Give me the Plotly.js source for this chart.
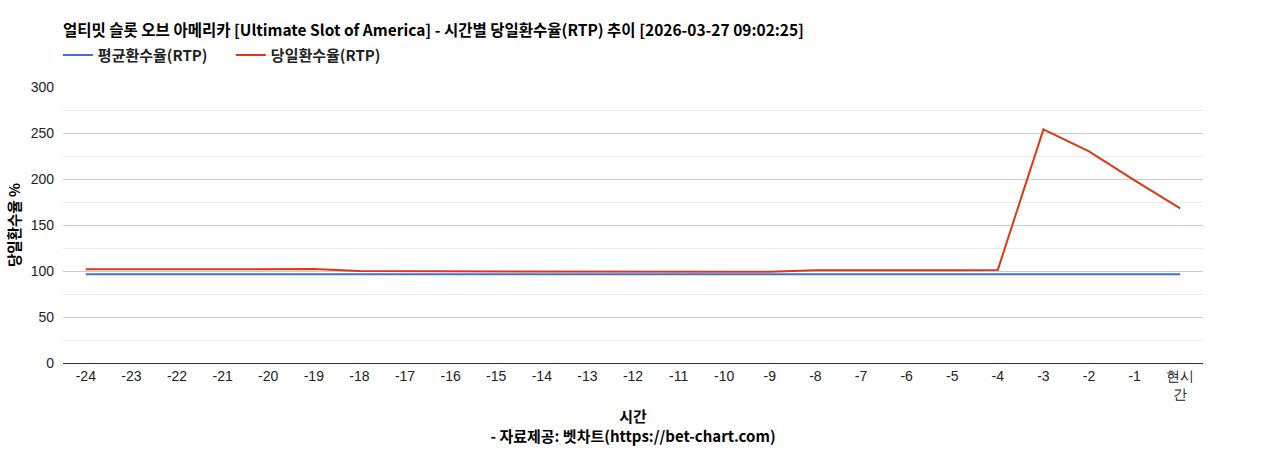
<!DOCTYPE html>
<html>
<head>
<meta charset="utf-8">
<script src="https://cdn.plot.ly/plotly-3.0.1.min.js"></script>
<style>
  body { margin: 0; background: #fff; }
  #chart { width: 1268px; height: 450px; }
</style>
</head>
<body>
<div id="chart"></div>
<script>
// hours before now, last one is "now"
var hours = ['-24', '-23', '-22', '-21', '-20', '-19', '-18', '-17', '-16', '-15', '-14', '-13',
             '-12', '-11', '-10', '-9', '-8', '-7', '-6', '-5', '-4', '-3', '-2', '-1', '현시간'];
var hourLabels = ['-24', '-23', '-22', '-21', '-20', '-19', '-18', '-17', '-16', '-15', '-14', '-13',
                  '-12', '-11', '-10', '-9', '-8', '-7', '-6', '-5', '-4', '-3', '-2', '-1', '현시<br>간'];

var avgRtp = [96.5, 96.5, 96.5, 96.5, 96.5, 96.5, 96.5, 96.5, 96.5, 96.5, 96.5, 96.5,
              96.5, 96.5, 96.5, 96.5, 96.5, 96.5, 96.5, 96.5, 96.5, 96.5, 96.5, 96.5, 96.5];
var todayRtp = [101.8, 101.8, 101.8, 101.9, 102.4, 102.1, 99.9, 99.8, 99.3, 98.9, 98.8, 98.6,
                98.6, 98.9, 99.1, 99.3, 100.9, 100.9, 100.7, 100.7, 101.2, 254.0, 230.0, 198.5, 168.0];

var yTicks = [0, 50, 100, 150, 200, 250, 300];

var korFont = '"Noto Sans CJK KR", "Noto Sans", sans-serif';

var trace1 = {
  x: hours,
  y: avgRtp,
  name: '<b>평균환수율(RTP)</b>',
  type: 'scatter',
  mode: 'lines',
  line: { color: '#3f6fd8', width: 2 }
};

var trace2 = {
  x: hours,
  y: todayRtp,
  name: '<b>당일환수율(RTP)</b>',
  type: 'scatter',
  mode: 'lines',
  line: { color: '#dc3912', width: 2 }
};

var layout = {
  width: 1268,
  height: 450,
  margin: { l: 63, r: 65, t: 87, b: 87 },
  paper_bgcolor: '#fff',
  plot_bgcolor: '#fff',
  showlegend: true,
  title: {
    text: '<b>얼티밋 슬롯 오브 아메리카 [Ultimate Slot of America] - 시간별 당일환수율(RTP) 추이 [2026-03-27 09:02:25]</b>',
    xref: 'container', x: 63 / 1268, xanchor: 'left',
    yref: 'container', y: 1 - 31 / 450, yanchor: 'middle',
    font: { family: korFont, size: 15.5, color: '#000' }
  },
  legend: {
    orientation: 'h',
    x: -0.0045, xanchor: 'left',
    y: 1.055, yanchor: 'bottom',
    font: { family: korFont, size: 15, color: '#222' },
    itemwidth: 30,
    entrywidth: 128,
    entrywidthmode: 'pixels'
  },
  xaxis: {
    type: 'category',
    tickvals: hours,
    ticktext: hourLabels,
    range: [-0.5, 24.5],
    showgrid: false,
    showline: true,
    linecolor: '#333',
    linewidth: 1,
    ticks: '',
    fixedrange: true,
    tickfont: { family: 'Liberation Sans, Arial, sans-serif', size: 14, color: '#222' },
    title: {
      text: '<b>시간</b><br><b>- 자료제공: 벳차트(https://bet-chart.com)</b>',
      standoff: 10,
      font: { family: korFont, size: 15, color: '#000' }
    }
  },
  yaxis: {
    range: [0, 300],
    tickvals: yTicks,
    gridcolor: '#cccccc',
    zeroline: false,
    showline: false,
    ticks: '',
    ticklabelstandoff: 8,
    fixedrange: true,
    tickfont: { family: 'Liberation Sans, Arial, sans-serif', size: 14, color: '#222' },
    minor: { dtick: 25, showgrid: true, gridcolor: '#ebebeb' },
    title: {
      text: '<b>당일환수율 %</b>',
      standoff: 6,
      font: { family: korFont, size: 14.5, color: '#000' }
    }
  }
};

var config = { displayModeBar: false, responsive: false };

Plotly.newPlot('chart', [trace1, trace2], layout, config);
</script>
</body>
</html>
